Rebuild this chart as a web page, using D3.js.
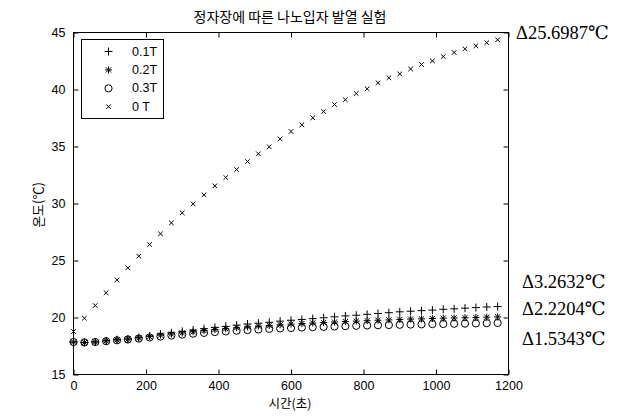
<!DOCTYPE html>
<html><head><meta charset="utf-8">
<script src="https://cdn.jsdelivr.net/npm/d3@7/dist/d3.min.js"></script>
<style>
html,body{margin:0;padding:0;background:#fff;}
svg{display:block;}
</style></head>
<body>
<svg id="chart" width="627" height="420"></svg>
<script>
const times = d3.range(0, 1171, 30);
const seriesNames = ["0.1T", "0.2T", "0.3T", "0 T"];
const t01 = [17.85,17.8,17.85,17.95,18.05,18.12,18.25,18.38,18.55,18.65,18.78,18.9,19.02,19.13,19.22,19.33,19.43,19.5,19.58,19.68,19.76,19.83,19.9,19.98,20.06,20.14,20.2,20.28,20.35,20.42,20.5,20.55,20.6,20.65,20.72,20.76,20.82,20.87,20.92,20.96];
const t02 = [17.85,17.8,17.85,17.95,18.03,18.1,18.2,18.32,18.45,18.55,18.65,18.75,18.85,18.95,19.02,19.1,19.18,19.25,19.3,19.36,19.42,19.47,19.52,19.56,19.6,19.64,19.68,19.72,19.76,19.79,19.83,19.86,19.88,19.91,19.94,19.96,19.98,20.0,20.03,20.05];
const t03 = [17.85,17.82,17.85,17.92,18.0,18.07,18.15,18.25,18.33,18.42,18.5,18.58,18.65,18.72,18.78,18.84,18.9,18.95,19.0,19.04,19.08,19.12,19.15,19.18,19.21,19.24,19.27,19.3,19.32,19.34,19.36,19.38,19.4,19.42,19.43,19.45,19.46,19.48,19.5,19.52];
const t00 = [18.77,19.94,21.05,22.17,23.3,24.36,25.38,26.4,27.34,28.3,29.18,29.97,30.76,31.55,32.28,32.98,33.68,34.36,34.97,35.67,36.32,36.9,37.52,38.07,38.68,39.1,39.65,40.06,40.59,41.03,41.37,41.8,42.19,42.51,42.89,43.25,43.57,43.83,44.1,44.36];
const xTicks = [0,200,400,600,800,1000,1200];
const yTicks = [15,20,25,30,35,40,45];
const deltaLabels = ["Δ25.6987℃", "Δ3.2632℃", "Δ2.2204℃", "Δ1.5343℃"];
const deltaValues = [44.75, 22.9, 20.55, 17.9];
const titleText = "정자장에 따른 나노입자 발열 실험";
const xLabel = "시간(초)";
const yLabel = "온도(℃)";

const svg = d3.select("#chart");
const L = 73, R = 508, T = 32, B = 374;
const x = d3.scaleLinear().domain([0,1200]).range([L,R]);
const y = d3.scaleLinear().domain([15,45]).range([B,T]);
const tickFont = "'Liberation Sans', Arial, sans-serif";
const krFont = "'Noto Sans CJK KR', sans-serif";

// frame
svg.append("rect").attr("x",L+0.5).attr("y",T+0.5).attr("width",R-L).attr("height",B-T)
  .attr("fill","none").attr("stroke","#000").attr("stroke-width",1);

// axes with inward ticks
const axB = d3.axisBottom(x).tickValues(xTicks).tickSize(-5).tickPadding(7).tickFormat(d3.format("d"));
const axT = d3.axisTop(x).tickValues(xTicks).tickSize(-5).tickFormat("");
const axL = d3.axisLeft(y).tickValues(yTicks).tickSize(-5).tickPadding(8);
const axR = d3.axisRight(y).tickValues(yTicks).tickSize(-5).tickFormat("");
function styleAx(g){
  g.select(".domain").remove();
  g.selectAll(".tick line").attr("stroke","#000");
  g.selectAll(".tick text").attr("fill","#000").style("font-family",tickFont).style("font-size","12.5px");
}
svg.append("g").attr("transform",`translate(0.5,${B+0.5})`).call(axB).call(styleAx);
svg.append("g").attr("transform",`translate(0.5,${T+0.5})`).call(axT).call(styleAx);
svg.append("g").attr("transform",`translate(${L+0.5},0.5)`).call(axL).call(styleAx);
svg.append("g").attr("transform",`translate(${R+0.5},0.5)`).call(axR).call(styleAx);

// marker drawers
function plusPath(s){return `M${-s},0H${s}M0,${-s}V${s}`;}
function xPath(s){return `M${-s},${-s}L${s},${s}M${-s},${s}L${s},${-s}`;}
const markers = [
  g => g.append("path").attr("d",plusPath(4)),
  g => g.append("path").attr("d",plusPath(3.5)+xPath(2.6)),
  g => g.append("circle").attr("r",3.6),
  g => g.append("path").attr("d",xPath(2.3))
];
const allData = [t01,t02,t03,t00];

const plot = svg.append("g");
allData.forEach((vals,i)=>{
  const grp = plot.append("g").attr("fill","none").attr("stroke","#000").attr("stroke-width",1);
  vals.forEach((v,j)=>{
    const m = grp.append("g").attr("transform",`translate(${x(times[j])+0.5},${y(v)+0.5})`);
    markers[i](m);
  });
});

// legend
const lg = svg.append("g");
lg.append("rect").attr("x",81.5).attr("y",39.5).attr("width",82).attr("height",79)
  .attr("fill","#fff").attr("stroke","#000");
seriesNames.forEach((n,i)=>{
  const yy = 51 + i*18.4;
  const m = lg.append("g").attr("transform",`translate(108.5,${yy+0.5})`)
    .attr("fill","none").attr("stroke","#000");
  markers[i](m);
  lg.append("text").attr("x",132).attr("y",yy+4.5).text(n)
    .style("font-family",tickFont).style("font-size","12.5px");
});

// title & labels
svg.append("text").attr("x",290).attr("y",22).attr("text-anchor","middle").text(titleText)
  .style("font-family",krFont).style("font-size","14px");
svg.append("text").attr("x",290).attr("y",408).attr("text-anchor","middle").text(xLabel)
  .style("font-family",krFont).style("font-size","12.5px");
svg.append("text").attr("transform","translate(43,205) rotate(-90)").attr("text-anchor","middle").text(yLabel)
  .style("font-family",krFont).style("font-size","13px");

// delta annotations
deltaLabels.forEach((t,i)=>{
  svg.append("text").attr("x", i===0?516:522).attr("y", y(deltaValues[i]))
    .attr("dominant-baseline","middle").text(t)
    .style("font-family","'Liberation Serif', 'DejaVu Serif', serif").style("font-size","18.5px");
});
</script>
</body></html>
